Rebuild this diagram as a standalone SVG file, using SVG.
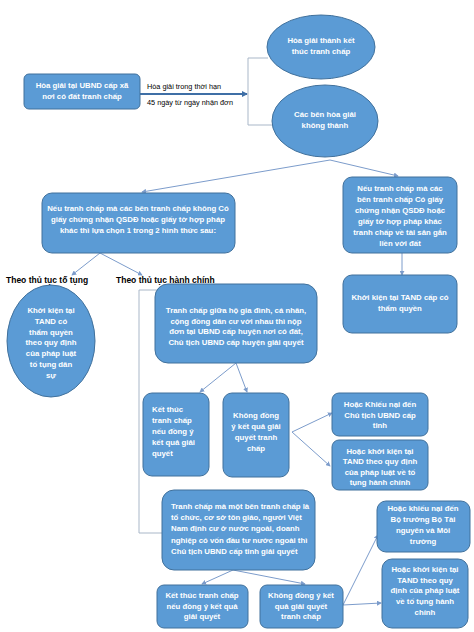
<svg xmlns="http://www.w3.org/2000/svg" width="474" height="632" viewBox="0 0 474 632">
<style>
.n{fill:#5b9bd5;stroke:#41719c;stroke-width:1}
.t{fill:#fff;font-family:"Liberation Sans",Arial,sans-serif;font-size:7.8px;font-weight:bold;text-anchor:middle}
.tl{fill:#fff;font-family:"Liberation Sans",Arial,sans-serif;font-size:7.8px;font-weight:bold;text-anchor:start}
.lb{fill:#000;font-family:"Liberation Sans",Arial,sans-serif;font-size:8.5px;font-weight:bold}
.el{fill:#000;font-family:"Liberation Sans",Arial,sans-serif;font-size:7.3px}
.c{fill:none;stroke:#7c9ccb;stroke-width:1}
.b{fill:none;stroke:#a9b7c8;stroke-width:1}
</style>
<defs>
<marker id="a" viewBox="0 0 6 6" refX="5" refY="3" markerWidth="5" markerHeight="5" orient="auto"><path d="M0,0L6,3L0,6z" fill="#7c9ccb"/></marker>
<marker id="a2" viewBox="0 0 6 6" refX="5" refY="3" markerWidth="3" markerHeight="3" orient="auto"><path d="M0,0L6,3L0,6z" fill="#3f6fa6"/></marker>
</defs>
<rect width="474" height="632" fill="#fff"/>
<g id="connectors">
<line x1="140" y1="94" x2="247" y2="94" stroke="#3f6fa6" stroke-width="2" marker-end="url(#a2)"/>
<path class="b" d="M268,58H248V125H273"/>
<line class="c" x1="330" y1="160" x2="142" y2="192" marker-end="url(#a)"/>
<line class="c" x1="330" y1="160" x2="398" y2="176" marker-end="url(#a)"/>
<line class="c" x1="402" y1="253" x2="402" y2="275" marker-end="url(#a)"/>
<line class="c" x1="100" y1="253" x2="72" y2="275" marker-end="url(#a)"/>
<line class="c" x1="100" y1="253" x2="142" y2="275" marker-end="url(#a)"/>
<path class="b" d="M157,290H139V533H162"/>
<line class="c" x1="236" y1="363" x2="200" y2="392" marker-end="url(#a)"/>
<line class="c" x1="236" y1="363" x2="247" y2="392" marker-end="url(#a)"/>
<line class="c" x1="292" y1="432" x2="332" y2="413" marker-end="url(#a)"/>
<line class="c" x1="292" y1="432" x2="330" y2="466" marker-end="url(#a)"/>
<line class="c" x1="233" y1="570" x2="202" y2="584" marker-end="url(#a)"/>
<line class="c" x1="233" y1="570" x2="305" y2="584" marker-end="url(#a)"/>
<line class="c" x1="343" y1="605" x2="381" y2="603" marker-end="url(#a)"/>
<line class="c" x1="343" y1="605" x2="378" y2="535" marker-end="url(#a)"/>
<text class="el" x="147" y="89">Hòa giải trong thời hạn</text>
<text class="el" x="147" y="105">45 ngày từ ngày nhận đơn</text>
<text class="lb" x="6" y="283">Theo thủ tục tố tụng</text>
<text class="lb" x="116" y="283">Theo thủ tục hành chính</text>
</g>
<g id="n1"><rect class="n" x="24" y="74" width="116" height="35" rx="5"/>
<text class="t" x="82" y="88"><tspan x="82">Hòa giải tại UBND cấp xã</tspan><tspan x="82" dy="10.5">nơi có đất tranh chấp</tspan></text></g>
<g id="n2"><ellipse class="n" cx="321" cy="47" rx="54" ry="32"/>
<text class="t" x="321" y="43"><tspan x="321">Hòa giải thành kết</tspan><tspan x="321" dy="11">thúc tranh chấp</tspan></text></g>
<g id="n3"><ellipse class="n" cx="325" cy="121" rx="53" ry="36"/>
<text class="t" x="325" y="117"><tspan x="325">Các bên hòa giải</tspan><tspan x="325" dy="11">không thành</tspan></text></g>
<g id="n4"><rect class="n" x="42" y="193" width="193" height="60" rx="10"/>
<text class="t" x="138" y="211"><tspan x="138">Nếu tranh chấp mà các bên tranh chấp không Có</tspan><tspan x="138" dy="11">giấy chứng nhận QSDĐ hoặc giấy tờ hợp pháp</tspan><tspan x="138" dy="11">khác thì lựa chọn 1 trong 2 hình thức sau:</tspan></text></g>
<g id="n5"><rect class="n" x="343" y="177" width="114" height="76" rx="9"/>
<text class="t" x="400" y="191"><tspan x="400">Nếu tranh chấp mà các</tspan><tspan x="400" dy="11">bên tranh chấp Có giấy</tspan><tspan x="400" dy="11">chứng nhận QSDĐ hoặc</tspan><tspan x="400" dy="11">giấy tờ hợp pháp khác</tspan><tspan x="400" dy="11">tranh chấp về tài sản gắn</tspan><tspan x="400" dy="11">liền với đất</tspan></text></g>
<g id="n6"><rect class="n" x="343" y="275" width="114" height="58" rx="9"/>
<text class="t" x="400" y="300"><tspan x="400">Khởi kiện tại TAND cấp có</tspan><tspan x="400" dy="11">thẩm quyền</tspan></text></g>
<g id="n7"><ellipse class="n" cx="51" cy="341" rx="44" ry="56"/>
<text class="t" x="51" y="313"><tspan x="51">Khởi kiện tại</tspan><tspan x="51" dy="10.8">TAND có</tspan><tspan x="51" dy="10.8">thẩm quyền</tspan><tspan x="51" dy="10.8">theo quy định</tspan><tspan x="51" dy="10.8">của pháp luật</tspan><tspan x="51" dy="10.8">tố tụng dân</tspan><tspan x="51" dy="10.8">sự</tspan></text></g>
<g id="n8"><rect class="n" x="155" y="284" width="162" height="79" rx="13"/>
<text class="t" x="236" y="313"><tspan x="236">Tranh chấp giữa hộ gia đình, cá nhân,</tspan><tspan x="236" dy="10.7">cộng đồng dân cư với nhau thì nộp</tspan><tspan x="236" dy="10.7">đơn tại UBND cấp huyện nơi có đất,</tspan><tspan x="236" dy="10.7">Chủ tịch UBND cấp huyện giải quyết</tspan></text></g>
<g id="n9"><rect class="n" x="143" y="393" width="66" height="83" rx="9"/>
<text class="tl" x="152" y="412"><tspan x="152">Kết thúc</tspan><tspan x="152" dy="10.9">tranh chấp</tspan><tspan x="152" dy="10.9">nếu đồng ý</tspan><tspan x="152" dy="10.9">kết quả giải</tspan><tspan x="152" dy="10.9">quyết</tspan></text></g>
<g id="n10"><rect class="n" x="223" y="393" width="66" height="84" rx="9"/>
<text class="t" x="256" y="418"><tspan x="256">Không đồng</tspan><tspan x="256" dy="10.9">ý kết quả giải</tspan><tspan x="256" dy="10.9">quyết tranh</tspan><tspan x="256" dy="10.9">chấp</tspan></text></g>
<g id="n11"><rect class="n" x="332" y="393" width="96" height="43" rx="7"/>
<text class="t" x="380" y="407"><tspan x="380">Hoặc Khiếu nại đến</tspan><tspan x="380" dy="10.5">Chủ tịch UBND cấp</tspan><tspan x="380" dy="10.5">tỉnh</tspan></text></g>
<g id="n12"><rect class="n" x="332" y="440" width="96" height="50" rx="7"/>
<text class="t" x="380" y="454"><tspan x="380">Hoặc khởi kiện tại</tspan><tspan x="380" dy="10.3">TAND theo quy định</tspan><tspan x="380" dy="10.3">của pháp luật về tố</tspan><tspan x="380" dy="10.3">tụng hành chính</tspan></text></g>
<g id="n13"><rect class="n" x="162" y="490" width="153" height="80" rx="12"/>
<text class="tl" x="171" y="509"><tspan x="171">Tranh chấp mà một bên tranh chấp là</tspan><tspan x="171" dy="11.2">tổ chức, cơ sở tôn giáo, người Việt</tspan><tspan x="171" dy="11.2">Nam định cư ở nước ngoài, doanh</tspan><tspan x="171" dy="11.2">nghiệp có vốn đầu tư nước ngoài thì</tspan><tspan x="171" dy="11.2">Chủ tịch UBND cấp tỉnh giải quyết</tspan></text></g>
<g id="n14"><rect class="n" x="377" y="501" width="93" height="51" rx="9"/>
<text class="t" x="423" y="511"><tspan x="423">Hoặc khiếu nại đến</tspan><tspan x="423" dy="11">Bộ trưởng Bộ Tài</tspan><tspan x="423" dy="11">nguyên và Môi</tspan><tspan x="423" dy="11">trường</tspan></text></g>
<g id="n15"><rect class="n" x="382" y="559" width="86" height="69" rx="10"/>
<text class="t" x="425" y="572"><tspan x="425">Hoặc khởi kiện tại</tspan><tspan x="425" dy="10.7">TAND theo quy</tspan><tspan x="425" dy="10.7">định của pháp luật</tspan><tspan x="425" dy="10.7">về tố tụng hành</tspan><tspan x="425" dy="10.7">chính</tspan></text></g>
<g id="n16"><rect class="n" x="157" y="585" width="91" height="43" rx="7"/>
<text class="t" x="202" y="598"><tspan x="202">Kết thúc tranh chấp</tspan><tspan x="202" dy="10.5">nếu đồng ý kết quả</tspan><tspan x="202" dy="10.5">giải quyết</tspan></text></g>
<g id="n17"><rect class="n" x="260" y="585" width="83" height="43" rx="7"/>
<text class="t" x="301" y="598"><tspan x="301">Không đồng ý kết</tspan><tspan x="301" dy="10.5">quả giải quyết</tspan><tspan x="301" dy="10.5">tranh chấp</tspan></text></g>
</svg>
